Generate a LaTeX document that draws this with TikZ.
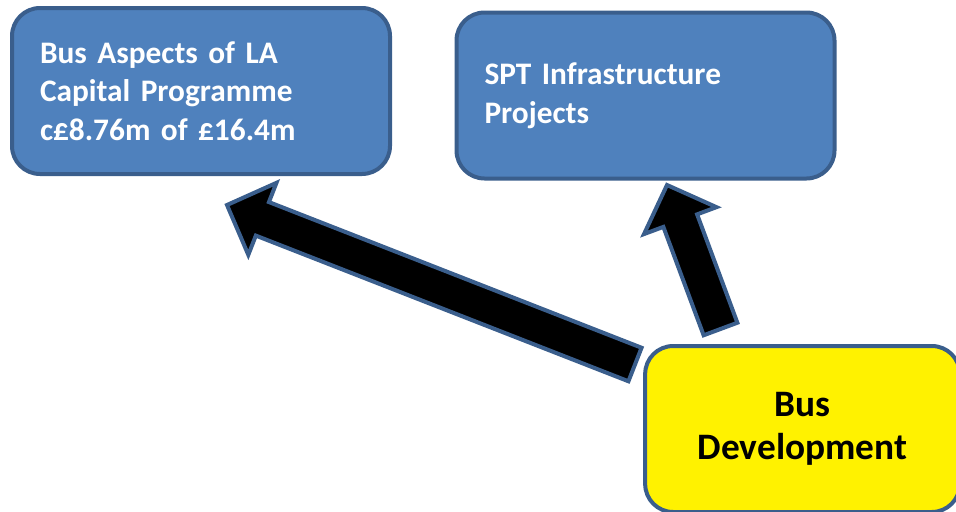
\documentclass[tikz,border=0pt]{standalone}
\usepackage{fontspec}
\setmainfont{Carlito}[WordSpace=0.55]
\usepackage{xcolor}
\usepackage{tikz}
\usetikzlibrary{positioning,calc}

\definecolor{boxblue}{HTML}{4F81BD}
\definecolor{edgeblue}{HTML}{3A5E8C}

% block arrow from tail (#1) to tip (#2)
\newcommand{\blockarrow}[2]{%
    \coordinate (hb) at ($(#2)!28.5pt!(#1)$);
    \draw[bigarrow] ($(#1)!13.5pt!90:(#2)$) -- ($(hb)!13.5pt!90:(#2)$) -- ($(hb)!29pt!90:(#2)$)
        -- (#2) -- ($(hb)!29pt!-90:(#2)$) -- ($(hb)!13.5pt!-90:(#2)$) -- ($(#1)!13.5pt!-90:(#2)$) -- cycle;
}

\begin{document}
\begin{tikzpicture}[x=0.75pt, y=-0.75pt,
    bluebox/.style={rectangle, rounded corners=21pt, draw=edgeblue, line width=3pt, fill=boxblue,
        text=white, font=\bfseries\fontsize{23.5}{29}\selectfont, align=left,
        inner xsep=21pt, text width=241.5pt, minimum width=283.5pt, minimum height=124.5pt},
    yellowbox/.style={rectangle, rounded corners=21pt, draw=edgeblue, line width=3pt, fill=yellow,
        text=black, font=\bfseries\fontsize{28}{32}\selectfont, align=center,
        minimum width=236pt, minimum height=124.5pt},
    bigarrow/.style={draw=edgeblue, line width=3pt, fill=black, line join=miter}]
    
    \clip (0,0) rectangle (956,511);
    \useasboundingbox (0,0) rectangle (956,511);

    \node [bluebox] (capital) at (201,91) {Bus Aspects of LA\\Capital Programme\\c£8.76m of £16.4m};
    \node [bluebox] (spt) at (645.5,95.5) {SPT Infrastructure\\Projects};
    \node [yellowbox] (busdev) at (802.5,429) {Bus\\Development};

    \coordinate (capital tail) at (635,364.5);
    \coordinate (capital tip) at (227,205);
    \coordinate (spt tail) at (720.5,329);
    \coordinate (spt tip) at (667,185);

    \blockarrow{capital tail}{capital tip}
    \blockarrow{spt tail}{spt tip}
\end{tikzpicture}
\end{document}
